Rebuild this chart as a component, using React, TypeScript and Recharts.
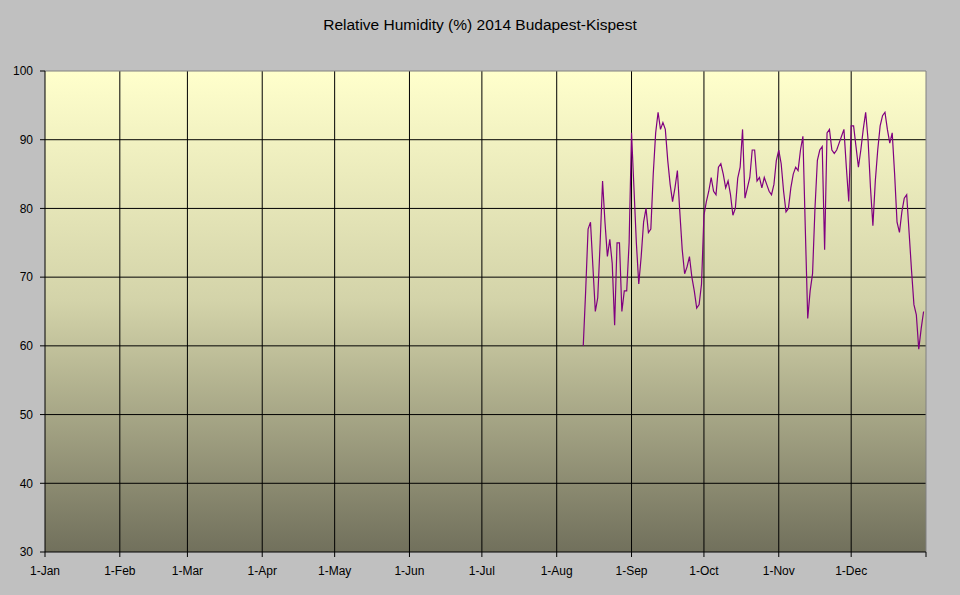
import React from "react";
import {
  LineChart,
  Line,
  XAxis,
  YAxis,
  CartesianGrid,
  ReferenceLine,
} from "recharts";

// day-of-year (Jan 1 = 0) of the first reading, then one reading per day
const startDay = 223; // 12-Aug

const humidity = [
  60, 68, 77, 78, 71.5, 65, 67, 75, 84, 78, 73, 75.5, 72, 63, 75, 75, 65, 68, 68, 75,
  91, 83, 75, 69, 73, 78, 80, 76.5, 77, 85, 91, 94, 91.5, 92.5, 91.5, 87, 83.5, 81, 83, 85.5,
  79.5, 74, 70.5, 71.5, 73, 70, 68, 65.5, 66, 69,
  79, 81, 82.5, 84.5, 82.5, 82, 86, 86.5, 85, 83, 84, 82, 79, 80, 84.4, 86, 91.5, 81.5, 83, 84.5,
  88.5, 88.5, 84, 84.5, 83, 84.5, 83.5, 82.5, 82, 83.5, 87,
  88.5, 86.5, 82.5, 79.5, 80, 83, 85, 86, 85.5, 88.5, 90.5, 77, 64, 68, 70.5, 80, 87, 88.5, 89,
  74, 91, 91.5, 88.5, 88, 88.5, 89.5, 90.5, 91.5, 86, 81,
  92, 92, 89, 86, 88.5, 91.5, 94, 90, 83, 77.5, 84, 88.5, 92, 93.5, 94, 91.5, 89.5, 91, 85, 78,
  76.5, 79.5, 81.5, 82, 76.5, 71, 66, 64.5, 59.5, 62.5, 65,
];

const monthStarts = [0, 31, 59, 90, 120, 151, 181, 212, 243, 273, 304, 334, 365];
const monthLabels = [
  "1-Jan", "1-Feb", "1-Mar", "1-Apr", "1-May", "1-Jun",
  "1-Jul", "1-Aug", "1-Sep", "1-Oct", "1-Nov", "1-Dec", "",
];
const yTicks = [30, 40, 50, 60, 70, 80, 90, 100];

const data = humidity.map((rh, i) => ({ day: startDay + i, rh }));

const font = "'Liberation Sans', Arial, sans-serif";

export default function App() {
  return (
    <div
      style={{
        position: "absolute",
        left: 0,
        top: 0,
        width: 960,
        height: 595,
        background: "#C0C0C0",
        fontFamily: font,
      }}
    >
      <div
        style={{
          position: "absolute",
          top: 16,
          left: 0,
          width: 960,
          textAlign: "center",
          fontSize: 15.5,
          lineHeight: "18px",
          color: "#000",
        }}
      >
        Relative Humidity (%) 2014 Budapest-Kispest
      </div>
      <LineChart
        width={960}
        height={595}
        data={data}
        margin={{ top: 71, right: 34, bottom: 0, left: 0 }}
      >
        <defs>
          <linearGradient id="bgGrad" x1="0" y1="0" x2="0" y2="1">
            <stop offset="0%" stopColor="#FFFFCC" />
            <stop offset="48%" stopColor="#D3D3A9" />
            <stop offset="100%" stopColor="#71705C" />
          </linearGradient>
        </defs>
        <CartesianGrid
          fill="url(#bgGrad)"
          fillOpacity={1}
          stroke="#000"
          strokeOpacity={1}
          horizontalValues={[40, 50, 60, 70, 80, 90]}
          verticalValues={monthStarts.slice(1, 12)}
        />
        <XAxis
          dataKey="day"
          type="number"
          domain={[0, 365]}
          ticks={monthStarts}
          interval={0}
          tickFormatter={(v) => monthLabels[monthStarts.indexOf(v)] ?? ""}
          height={43}
          stroke="#000"
          tick={{ fill: "#000", fontSize: 12, fontFamily: font }}
          tickSize={5}
          tickMargin={9}
        />
        <YAxis
          type="number"
          domain={[30, 100]}
          ticks={yTicks}
          interval={0}
          width={45}
          stroke="#000"
          tick={{ fill: "#000", fontSize: 12, fontFamily: font }}
          tickSize={5}
          tickMargin={7}
        />
        <ReferenceLine y={100} stroke="#808080" />
        <ReferenceLine x={365} stroke="#808080" />
        <Line
          type="linear"
          dataKey="rh"
          stroke="#800080"
          strokeWidth={1.2}
          dot={false}
          isAnimationActive={false}
        />
      </LineChart>
    </div>
  );
}
